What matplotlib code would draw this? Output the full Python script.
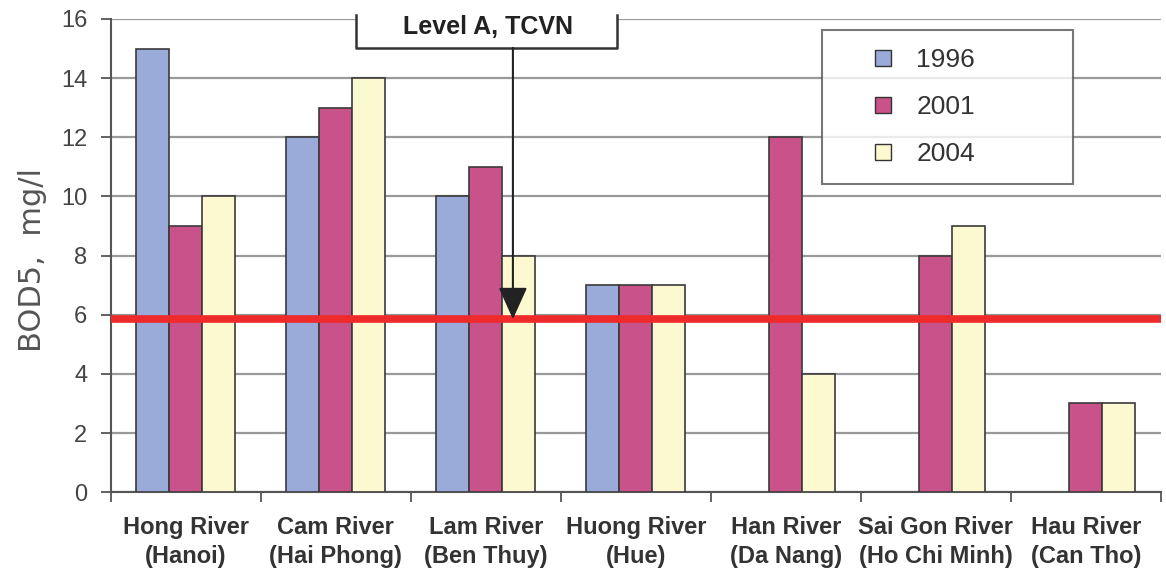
import numpy as np
import matplotlib.pyplot as plt
from matplotlib.lines import Line2D
from matplotlib.patches import Rectangle

# data
rivers = ['Hong River\n(Hanoi)', 'Cam River\n(Hai Phong)', 'Lam River\n(Ben Thuy)',
          'Huong River\n(Hue)', 'Han River\n(Da Nang)', 'Sai Gon River\n(Ho Chi Minh)',
          'Hau River\n(Can Tho)']
years = ['1996', '2001', '2004']
bod_1996 = [15, 12, 10, 7, np.nan, np.nan, np.nan]
bod_2001 = [9, 13, 11, 7, 12, 8, 3]
bod_2004 = [10, 14, 8, 7, 4, 9, 3]
level_a = 5.85
level_label = 'Level A, TCVN'

colors = ['#9aaad9', '#c9528a', '#fcf8d0']
font = 'Liberation Sans'

fig = plt.figure(figsize=(11.66, 5.75), dpi=100)
ax = fig.add_axes([0.095, 0.144, 0.9005, 0.823])

x = np.arange(len(rivers))
w = 0.22
for i, (vals, c) in enumerate(zip([bod_1996, bod_2001, bod_2004], colors)):
    ax.bar(x + (i - 1) * w, vals, w, color=c, edgecolor='#3a3a3a', linewidth=1.2, zorder=3)

ax.axhline(level_a, color='#ee2a2a', lw=5.5, zorder=4)

ax.set_xlim(-0.5, len(rivers) - 0.5)
ax.set_ylim(0, 16)
ax.set_yticks(range(0, 17, 2))
ax.yaxis.grid(True, color='#999999', lw=1.6, zorder=0)
ax.set_axisbelow(True)

# ticks between groups, labels at the centres
ax.set_xticks(np.arange(-0.5, len(rivers), 1))
ax.set_xticklabels([])
ax.set_xticks(x, minor=True)
ax.set_xticklabels(rivers, minor=True, family=font, fontsize=17, fontweight='bold',
                   color='#333333', linespacing=1.35)
ax.tick_params(axis='x', which='minor', length=0, pad=17)
ax.tick_params(axis='x', which='major', length=7, width=1.3, color='#555555', direction='out')
ax.tick_params(axis='y', length=7, width=1.3, color='#555555', pad=10, labelcolor='#444444')
for t in ax.get_yticklabels():
    t.set_family(font)
    t.set_fontsize(17)

for s in ['top', 'right']:
    ax.spines[s].set_visible(False)
for s in ['left', 'bottom']:
    ax.spines[s].set_color('#555555')
    ax.spines[s].set_linewidth(1.5)

ax.set_ylabel('BOD5,  mg/l', family='DejaVu Sans', fontsize=22, color='#555555')
ax.yaxis.set_label_coords(-0.061, 0.49)

# bracket with the standard label
ax.add_patch(Rectangle((0.234, 0.939), 0.248, 0.08, transform=ax.transAxes,
                       facecolor='white', edgecolor='none', zorder=5, clip_on=False))
ax.plot([0.234, 0.234, 0.482, 0.482], [1.008, 0.939, 0.939, 1.008], transform=ax.transAxes,
        color='#333333', lw=1.8, zorder=6, clip_on=False)
ax.text(0.359, 0.983, level_label, transform=ax.transAxes, ha='center', va='center',
        family=font, fontsize=18, fontweight='bold', color='#222222', zorder=7)
ax.annotate('', xy=(0.383, level_a), xycoords=ax.get_yaxis_transform(),
            xytext=(0.383, 0.939), textcoords='axes fraction',
            arrowprops=dict(arrowstyle='-|>,head_length=20,head_width=9', mutation_scale=1,
                            color='#222222', lw=1.5, shrinkA=0, shrinkB=0), zorder=6)

handles = [Line2D([], [], marker='s', linestyle='none', markersize=12,
                  markerfacecolor=c, markeredgecolor='#333333') for c in colors]
leg = ax.legend(handles, years, loc='upper left', mode='expand',
                bbox_to_anchor=(0.677, 0.653, 0.239, 0.324), borderaxespad=0,
                prop={'family': font, 'size': 19}, frameon=True, fancybox=False,
                borderpad=0.68, labelspacing=0.88, handlelength=3.33, handletextpad=-0.42)
leg.get_frame().set_edgecolor('#555555')
leg.get_frame().set_linewidth(1.5)
leg.set_zorder(8)
for t in leg.get_texts():
    t.set_color('#333333')

plt.savefig('out.png', dpi=100)
